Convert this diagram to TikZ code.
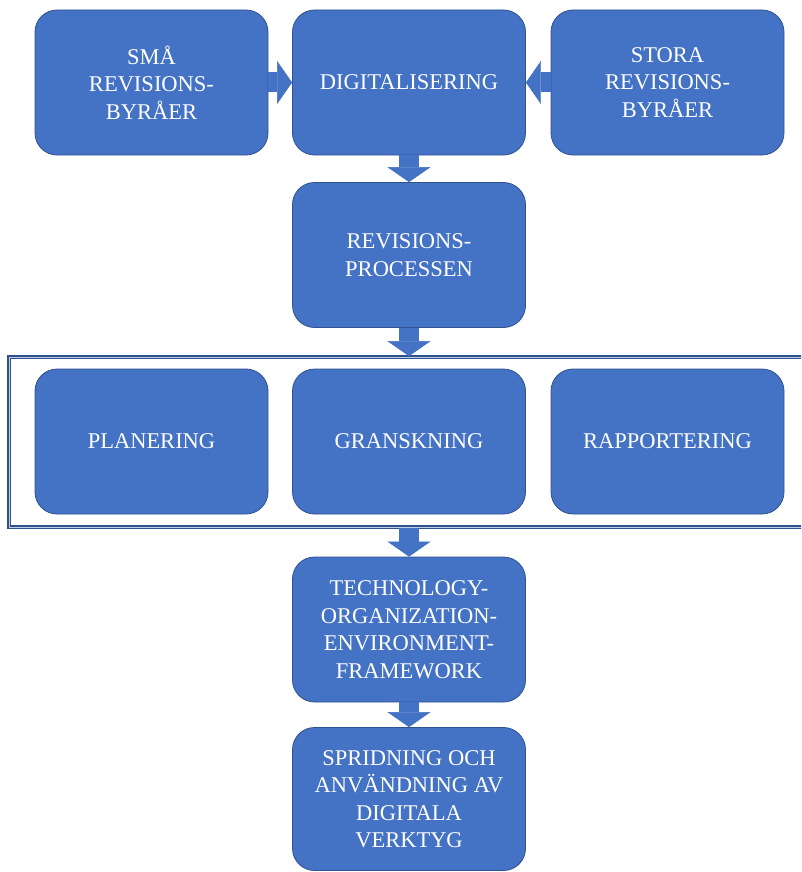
\documentclass[tikz,border=0pt]{standalone}
\usepackage{fontspec}
\setmainfont{Liberation Serif}
\usetikzlibrary{arrows.meta}

\definecolor{boxfill}{HTML}{4472C4}
\definecolor{boxline}{HTML}{2F528F}

\tikzset{
  stepbox/.style={rectangle, rounded corners=22pt, draw=boxline, line width=0.8pt,
    fill=boxfill, minimum width=233pt, minimum height=145pt, inner sep=0pt,
    text=white, align=center, font=\fontsize{22.5}{27.5}\selectfont},
  phaseframe/.style={rectangle, draw=boxline, double=boxfill!35, line width=1.7pt,
    double distance=0.7pt, minimum width=800pt, minimum height=170pt, inner sep=0pt},
  blockarrow/.style={draw=boxfill, line width=20pt,
    -{Triangle[width=43pt,length=15pt,line width=0.4pt]}},
}

\begin{document}
\begin{tikzpicture}[x=1pt,y=-1pt]
  \useasboundingbox (0,0) rectangle (801,872);
  \clip (0,0) rectangle (801,872);

  % frame round the three phases
  \node[phaseframe] (faser) at (409,442) {};

  % top row
  \node[stepbox] (sma) at (151.5,82.5) {SMÅ\\REVISIONS-\\BYRÅER};
  \node[stepbox] (digi) at (409,82.5) {DIGITALISERING};
  \node[stepbox] (stora) at (667.5,82.5) {STORA\\REVISIONS-\\BYRÅER};

  \node[stepbox] (process) at (409,255) {REVISIONS-\\PROCESSEN};

  % phases
  \node[stepbox] (plan) at (151.5,441.5) {PLANERING};
  \node[stepbox] (gransk) at (409,441.5) {GRANSKNING};
  \node[stepbox] (rapport) at (667.5,441.5) {RAPPORTERING};

  \node[stepbox] (toe) at (409,629.5) {TECHNOLOGY-\\ORGANIZATION-\\ENVIRONMENT-\\FRAMEWORK};
  \node[stepbox, minimum height=143pt] (spridning) at (409,799) {SPRIDNING OCH\\ANVÄNDNING AV\\DIGITALA\\VERKTYG};

  % block arrows
  \draw[blockarrow] (sma) -- (digi);
  \draw[blockarrow] (stora) -- (digi);
  \draw[blockarrow] (digi) -- (process);
  \draw[blockarrow] (process) -- (faser);
  \draw[blockarrow] (faser) -- (toe);
  \draw[blockarrow] (toe) -- (spridning);
\end{tikzpicture}
\end{document}
